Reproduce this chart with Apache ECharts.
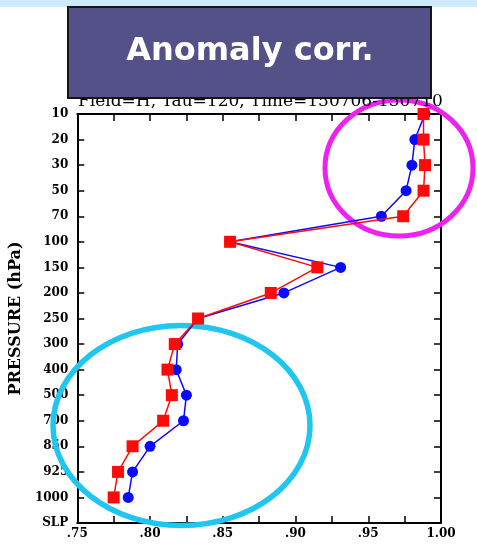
<!DOCTYPE html>
<html>
<head>
<meta charset="utf-8">
<script src="https://cdn.jsdelivr.net/npm/echarts@6/dist/echarts.min.js"></script>
<style>
  html, body { margin: 0; padding: 0; background: #ffffff; }
  #chart { width: 477px; height: 544px; }
</style>
</head>
<body>
<div id="chart"></div>
<script>
// Pressure levels (top to bottom) and anomaly correlation per level
const levels = ['10', '20', '30', '50', '70', '100', '150', '200', '250', '300',
                '400', '500', '700', '850', '925', '1000', 'SLP'];
const blueCorr = [0.989, 0.982, 0.980, 0.976, 0.959, 0.855, 0.931, 0.892, 0.833,
                  0.819, 0.818, 0.825, 0.823, 0.800, 0.788, 0.785];
const redCorr  = [0.988, 0.988, 0.989, 0.988, 0.974, 0.855, 0.915, 0.883, 0.833,
                  0.817, 0.812, 0.815, 0.809, 0.788, 0.778, 0.775];
const xMin = 0.75, xMax = 1.00, xStep = 0.025;

const headerText = 'Field=H, Tau=120, Time=150706-150710';
const titleText = 'Anomaly corr.';

const serif = '"DejaVu Serif", "Liberation Serif", serif';
const TICK_LEN = 7;

// Labels every 0.05 as ".75", ".80", ... "1.00"
function fmtTick(v) {
  if (Math.round(v * 1000) % 50 !== 0) return '';
  if (v >= 0.999) return '1.00';
  return v.toFixed(2).replace(/^0/, '');
}

function axisLine() {
  return { show: true, onZero: false, lineStyle: { color: '#000000', width: 2 } };
}
function ticks() {
  return { show: true, inside: true, length: TICK_LEN, lineStyle: { color: '#000000', width: 1.5 } };
}

const decor = [
  { type: 'rect', id: 'strip', z: 0, shape: { x: 0, y: 0, width: 477, height: 7 },
    style: { fill: '#cde9fb' } },
  { type: 'text', id: 'header', z: 5, left: 78, top: 93,
    style: { text: headerText, fill: '#000', font: '17px ' + serif } },
  { type: 'rect', id: 'titleBox', z: 10, shape: { x: 68, y: 7, width: 363, height: 91 },
    style: { fill: '#545188', stroke: '#151515', lineWidth: 2 } },
  { type: 'text', id: 'title', z: 11, x: 250, y: 52,
    style: { text: titleText, fill: '#ffffff', font: 'bold 32px "DejaVu Sans", sans-serif',
             align: 'center', verticalAlign: 'middle' } },
  { type: 'ellipse', id: 'ringTop', z: 1, shape: { cx: 399, cy: 168, rx: 74, ry: 68 },
    style: { fill: null, stroke: '#ee22ee', lineWidth: 5 } },
  { type: 'ellipse', id: 'ringLow', z: 1, shape: { cx: 181.5, cy: 425.5, rx: 128.5, ry: 100 },
    style: { fill: null, stroke: '#1ec6f0', lineWidth: 5.5 } }
];

const chart = echarts.init(document.getElementById('chart'), null, { renderer: 'canvas' });
chart.setOption({
  backgroundColor: '#ffffff',
  animation: false,
  grid: { left: 75, right: 36, top: 114, bottom: 21 },
  xAxis: [
    {
      type: 'value', position: 'bottom', min: xMin, max: xMax, interval: xStep,
      axisLine: axisLine(), axisTick: ticks(), splitLine: { show: false },
      axisLabel: { formatter: fmtTick, color: '#000', fontFamily: serif, fontWeight: 'bold',
                   fontSize: 12, margin: 5, showMinLabel: true, showMaxLabel: true }
    },
    {
      type: 'value', position: 'top', min: xMin, max: xMax, interval: xStep,
      axisLine: axisLine(), axisTick: ticks(), splitLine: { show: false },
      axisLabel: { show: false }
    }
  ],
  yAxis: [
    {
      type: 'category', data: levels, inverse: true, boundaryGap: false, position: 'left',
      axisLine: axisLine(), axisTick: ticks(), splitLine: { show: false },
      axisLabel: { color: '#000', fontFamily: serif, fontWeight: 'bold', fontSize: 12,
                   margin: 9, interval: 0 },
      name: 'PRESSURE (hPa)', nameLocation: 'middle', nameRotate: 90, nameGap: 49,
      nameTextStyle: { color: '#000', fontFamily: serif, fontWeight: 'bold', fontSize: 16 }
    },
    {
      type: 'category', data: levels, inverse: true, boundaryGap: false, position: 'right',
      axisLine: axisLine(), axisTick: ticks(), splitLine: { show: false },
      axisLabel: { show: false }
    }
  ],
  series: [
    {
      name: 'blue', type: 'line', xAxisIndex: 0, yAxisIndex: 0, z: 3,
      data: blueCorr, symbol: 'circle', symbolSize: 11,
      lineStyle: { color: '#0a0aff', width: 1.5 },
      itemStyle: { color: '#0a0aff' }
    },
    {
      name: 'red', type: 'line', xAxisIndex: 0, yAxisIndex: 0, z: 4,
      data: redCorr, symbol: 'rect', symbolSize: 12,
      lineStyle: { color: '#ff0a0a', width: 1.5 },
      itemStyle: { color: '#ff0a0a' }
    }
  ],
  graphic: decor
});

// Inward tick marks on all four frame sides, placed through the axes' own scales
function px(finder, value) {
  const p = chart.convertToPixel(finder, value);
  return Array.isArray(p) ? p[0] : p;
}
function drawFrameTicks() {
  const yTop = chart.convertToPixel({ yAxisIndex: 0 }, levels[0]);
  const yBottom = chart.convertToPixel({ yAxisIndex: 0 }, levels[levels.length - 1]);
  const xLeft = px({ xAxisIndex: 0 }, xMin);
  const xRight = px({ xAxisIndex: 0 }, xMax);
  console.error('frame', yTop, yBottom, xLeft, xRight);
  const st = { stroke: '#000000', lineWidth: 1.5 };
  const marks = [];
  const nX = Math.round((xMax - xMin) / xStep);
  for (let i = 1; i < nX; i++) {
    const x = px({ xAxisIndex: 0 }, xMin + i * xStep);
    marks.push({ type: 'line', id: 'tb' + i, z: 20, silent: true,
      shape: { x1: x, y1: yBottom, x2: x, y2: yBottom - TICK_LEN }, style: st });
    marks.push({ type: 'line', id: 'tt' + i, z: 20, silent: true,
      shape: { x1: x, y1: yTop, x2: x, y2: yTop + TICK_LEN }, style: st });
  }
  for (let j = 1; j < levels.length - 1; j++) {
    const y = chart.convertToPixel({ yAxisIndex: 0 }, levels[j]);
    marks.push({ type: 'line', id: 'tl' + j, z: 20, silent: true,
      shape: { x1: xLeft, y1: y, x2: xLeft + TICK_LEN, y2: y }, style: st });
    marks.push({ type: 'line', id: 'tr' + j, z: 20, silent: true,
      shape: { x1: xRight, y1: y, x2: xRight - TICK_LEN, y2: y }, style: st });
  }
  chart.setOption({ graphic: decor.concat(marks) });
}

let frameTicksDone = false;
chart.on('finished', function () {
  if (frameTicksDone) return;
  frameTicksDone = true;
  drawFrameTicks();
});
</script>
</body>
</html>
